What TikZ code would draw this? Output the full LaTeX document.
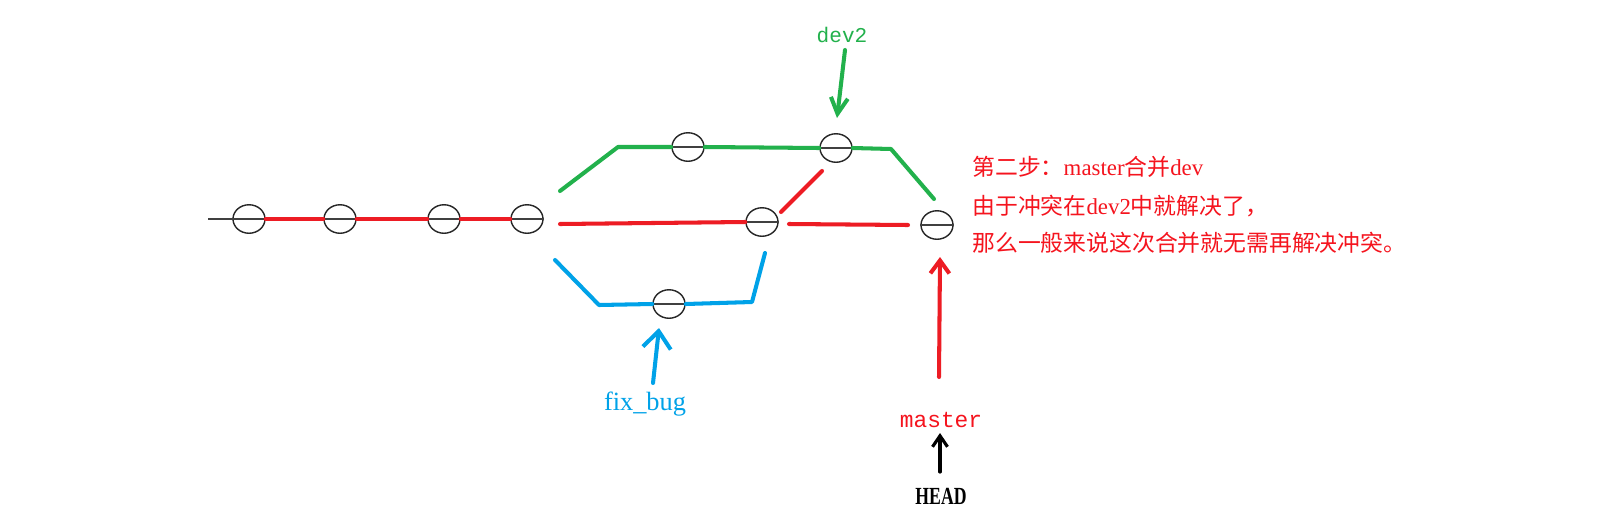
\documentclass[tikz,border=0pt]{standalone}
\usepackage{fontspec}
\setmainfont{Liberation Serif}
\newfontfamily\cjk{Noto Sans CJK SC}
\newfontfamily\monofnt{Liberation Mono}
\usetikzlibrary{shapes.geometric,arrows.meta}
\definecolor{pred}{RGB}{237,28,36}
\definecolor{tred}{RGB}{245,20,30}
\definecolor{pgreen}{RGB}{34,177,76}
\definecolor{pblue}{RGB}{0,162,232}
\tikzset{
  commit/.style={ellipse, draw=black!85, line width=0.8pt, minimum width=0.64cm, minimum height=0.57cm, inner sep=0pt},
  diam/.style={draw=black!75, line width=0.8pt},
  branch/.style={line width=2.3pt, line cap=round, line join=round},
  ptr/.style={line width=2.3pt, line cap=round},
  note/.style={anchor=base west, text=tred, font=\fontsize{13}{15}\selectfont, inner sep=0pt}
}
\begin{document}
\begin{tikzpicture}[x=0.02cm,y=-0.02cm]
\useasboundingbox (0,0) rectangle (1601,521);
\fill[white] (0,0) rectangle (1601,521);

% commits
\node[commit] (c1) at (249,219) {};
\node[commit] (c2) at (340,219) {};
\node[commit] (c3) at (444,219) {};
\node[commit] (c4) at (527,219) {};
\node[commit] (g1) at (688,147) {};
\node[commit] (g2) at (836,148) {};
\node[commit] (r1) at (762,222) {};
\node[commit] (b1) at (669,304) {};
\node[commit] (m)  at (937,225) {};
\foreach \n in {c1,c2,c3,c4,g1,g2,r1,b1,m}
  \draw[diam] (\n.west) -- (\n.east);

% free ends / bends
\coordinate (k0) at (208,219);
\coordinate (g0) at (560,191);
\coordinate (gk1) at (618,147);
\coordinate (gk2) at (891,149);
\coordinate (g3) at (934,199);
\coordinate (r0) at (560,224);
\coordinate (rd0) at (781,212);
\coordinate (rd1) at (822,171);
\coordinate (rm0) at (789,224);
\coordinate (rm1) at (908,225);
\coordinate (bs) at (555,260);
\coordinate (bk1) at (599,305);
\coordinate (bk2) at (752,302);
\coordinate (be) at (765,253);

% main line
\draw[diam] (k0) -- (c1.west);
\draw[branch,pred] (c1.east) -- (c2.west);
\draw[branch,pred] (c2.east) -- (c3.west);
\draw[branch,pred] (c3.east) -- (c4.west);

% dev2 branch
\draw[branch,pgreen] (g0) -- (gk1) -- (g1.west);
\draw[branch,pgreen] (g1.east) -- (g2.west);
\draw[branch,pgreen] (g2.east) -- (gk2) -- (g3);

% master branch
\draw[branch,pred] (r0) -- (r1.west);
\draw[branch,pred] (rd0) -- (rd1);
\draw[branch,pred] (rm0) -- (rm1);

% fix_bug branch
\draw[branch,pblue] (bs) -- (bk1) -- (b1.west);
\draw[branch,pblue] (b1.east) -- (bk2) -- (be);

% labels
\node[text=pgreen, font=\monofnt\fontsize{12}{14}\selectfont, inner sep=0pt] (dev2) at (842,35) {dev2};
\node[anchor=base, text=pblue, font=\fontsize{15}{17}\selectfont, inner sep=0pt] (fixbug) at (645,410) {fix\_bug};
\node[anchor=base, text=tred, font=\monofnt\fontsize{13}{15}\selectfont, inner sep=0pt] (master) at (941,427) {master};
\node[anchor=base, font=\bfseries\fontsize{14}{16}\selectfont, inner sep=0pt] (head) at (941,504) {\scalebox{0.72}[1]{HEAD}};

% pointer arrows
\coordinate (ga0) at (845,50);
\coordinate (ga1) at (837,118);
\draw[ptr,pgreen,-{Straight Barb[length=0.32cm,width=0.34cm]}] (ga0) -- (ga1);
\coordinate (ba0) at (653,383);
\coordinate (ba1) at (659,328);
\draw[ptr,pblue,-{Straight Barb[length=0.34cm,width=0.56cm]}] (ba0) -- (ba1);
\coordinate (ra0) at (939,377);
\coordinate (ra1) at (940,257);
\draw[ptr,pred,-{Straight Barb[length=0.26cm,width=0.38cm]}] (ra0) -- (ra1);
\coordinate (ha0) at (940,472);
\coordinate (ha1) at (940,433);
\draw[line width=1.8pt,line cap=round,black,-{Straight Barb[length=0.22cm,width=0.3cm]}] (ha0) -- (ha1);

% note
\node[note] (n1) at (972,175) {{\cjk 第二步：}master{\cjk 合并}dev};
\node[note] (n2) at (972,214) {{\cjk 由于冲突在}dev2{\cjk 中就解决了，}};
\node[note] (n3) at (972,251) {{\cjk 那么一般来说这次合并就无需再解决冲突。}};
\end{tikzpicture}
\end{document}
